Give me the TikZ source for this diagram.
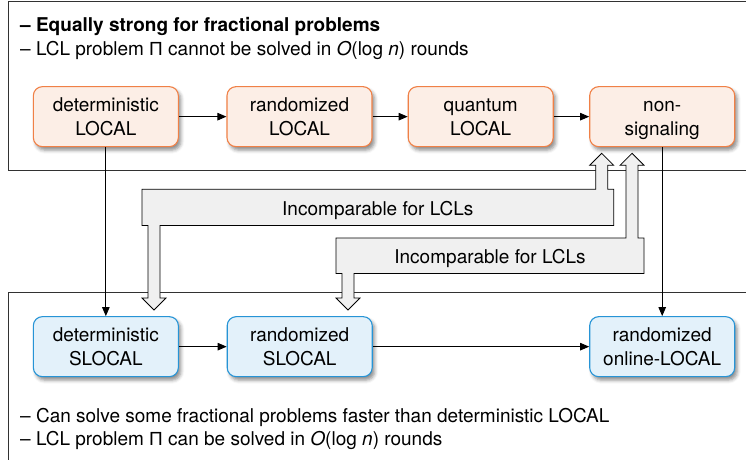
\documentclass[tikz,border=0pt]{standalone}
\usepackage{fontspec}
\setmainfont{TeX Gyre Heros}
\newfontfamily\pifont{Liberation Sans}
\usetikzlibrary{arrows.meta,shadows.blur}
\definecolor{orbd}{RGB}{240,128,70}
\definecolor{orfill}{RGB}{252,238,230}
\definecolor{blbd}{RGB}{38,148,214}
\definecolor{blfill}{RGB}{227,241,250}
\definecolor{fatfill}{RGB}{240,240,240}
\definecolor{framecol}{RGB}{50,50,50}
\newcommand\twolines[2]{\rule{0pt}{14pt}#1\\\raisebox{0pt}[\height][0pt]{#2}}
\newcommand\PiSym{{\pifont Π}}
\begin{document}
\begin{tikzpicture}[x=1pt,y=-1pt,
 font=\fontsize{19}{23.5}\selectfont,
 model/.style={rounded corners=9pt, minimum width=145pt, minimum height=60pt, inner sep=0pt, align=center, line width=1.1pt,
   blur shadow={shadow xshift=2.5pt, shadow yshift=-3.5pt, shadow blur radius=3.5pt, shadow opacity=45}},
 orangebox/.style={model, draw=orbd, fill=orfill},
 bluebox/.style={model, draw=blbd, fill=blfill},
 link/.style={line width=0.9pt, -{Triangle[length=9pt,width=7.5pt]}},
 framebox/.style={draw=framecol, line width=1pt},
 fat/.style={draw=black, line width=0.8pt, fill=fatfill},
 txt/.style={inner sep=0pt, anchor=base west},
 bandtxt/.style={inner sep=0pt, anchor=base},
]
\useasboundingbox (0,0) rectangle (746,459);
\clip (0,0) rectangle (746,459);
% frames
\draw[framebox] (8.7,1.7) rectangle (760,170.7);
\draw[framebox] (8.7,292.3) rectangle (760,470);
% nodes
\node[orangebox] (dl) at (105.85,116.65) {\twolines{deterministic}{LOCAL}};
\node[orangebox] (rl) at (299.5,116.65) {\twolines{randomized}{LOCAL}};
\node[orangebox] (ql) at (480.7,116.65) {\twolines{quantum}{LOCAL}};
\node[orangebox] (ns) at (662.2,116.65) {\twolines{non-}{signaling}};
\node[bluebox] (ds) at (105.85,346.65) {\twolines{deterministic}{SLOCAL}};
\node[bluebox] (rs) at (299.7,346.65) {\twolines{randomized}{SLOCAL}};
\node[bluebox] (ol) at (662.2,346.65) {\twolines{randomized}{online-LOCAL}};
% fat arrows
\draw[fat] (154,310) -- (166,298) -- (160,298) -- (160,225.5) -- (613.7,225.5) -- (613.7,189.3) -- (607.7,189.3) -- (607.7,165.3) -- (613.7,165.3) -- (601.7,153.3) -- (589.7,165.3) -- (595.7,165.3) -- (595.7,189.3) -- (142,189.3) -- (142,225.5) -- (148,225.5) -- (148,298) -- (142,298) -- cycle;
\draw[fat] (348,310) -- (360,298) -- (354,298) -- (354,273.5) -- (644,273.5) -- (644,238) -- (638,238) -- (638,165.3) -- (644,165.3) -- (632,153.3) -- (620,165.3) -- (626,165.3) -- (626,238) -- (336,238) -- (336,273.5) -- (342,273.5) -- (342,298) -- (336,298) -- cycle;
\node[bandtxt] (inc1) at (377.8,215) {Incomparable for LCLs};
\node[bandtxt] (inc2) at (490,263.5) {Incomparable for LCLs};
% links
\draw[link] (dl) -- (rl);
\draw[link] (rl) -- (ql);
\draw[link] (ql) -- (ns);
\draw[link] (dl) -- (ds);
\draw[link] (ns) -- (ol);
\draw[link] (ds) -- (rs);
\draw[link] (rs) -- (ol);
% texts
\node[txt] (t1) at (20,31.7) {\bfseries – Equally strong for fractional problems};
\node[txt] (t2) at (20,55) {– LCL problem \PiSym{} cannot be solved in \textit{O}(log \textit{n}) rounds};
\node[txt] (b1) at (20,422.3) {– Can solve some fractional problems faster than deterministic LOCAL};
\node[txt] (b2) at (20,445) {– LCL problem \PiSym{} can be solved in \textit{O}(log \textit{n}) rounds};
\end{tikzpicture}
\end{document}
